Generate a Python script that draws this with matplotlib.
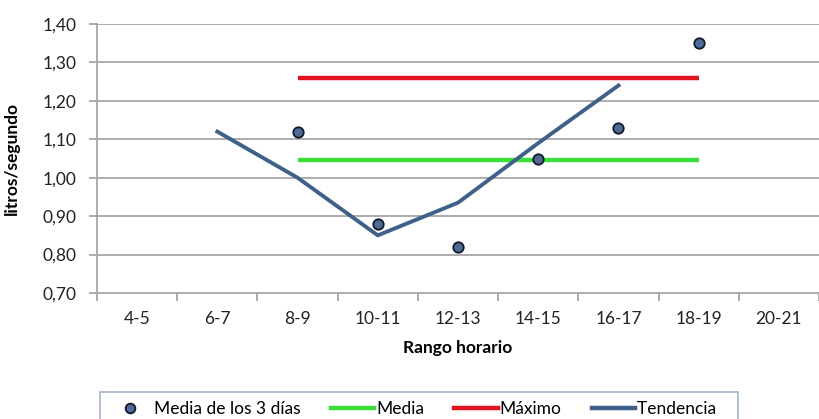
import matplotlib
matplotlib.use("Agg")
import matplotlib.pyplot as plt
import numpy as np
from matplotlib.lines import Line2D

plt.rcParams['font.family'] = ['Lato', 'DejaVu Sans']

categories = ["4-5", "6-7", "8-9", "10-11", "12-13", "14-15", "16-17", "18-19", "20-21"]
media_3_dias = [np.nan, np.nan, 1.12, 0.88, 0.82, 1.05, 1.13, 1.35, np.nan]
media = [np.nan, np.nan, 1.047, 1.047, 1.047, 1.047, 1.047, 1.047, np.nan]
maximo = [np.nan, np.nan, 1.26, 1.26, 1.26, 1.26, 1.26, 1.26, np.nan]
tendencia = [np.nan, 1.12, 1.00, 0.85, 0.935, 1.09, 1.24, np.nan, np.nan]
yticks = [0.70, 0.80, 0.90, 1.00, 1.10, 1.20, 1.30, 1.40]

W, H = 819, 419
FS = 12.5
fig = plt.figure(figsize=(W / 100, H / 100), dpi=100)
ax = fig.add_axes([97 / W, 1 - 293 / H, (819 - 97) / W, (293 - 24) / H])

x = np.arange(len(categories))
grid_c = '#A6A6A6'
ax.set_ylim(0.70, 1.40)
ax.set_xlim(-0.5, len(categories) - 0.5)
ax.set_yticks(yticks)
ax.set_yticklabels([f"{v:.2f}".replace('.', ',') for v in yticks], fontsize=FS, color='#222222')
for v in yticks[1:]:
    ax.axhline(v, color=grid_c, lw=1.3, zorder=0)

ax.set_xticks(x)
ax.set_xticklabels(categories, fontsize=FS, color='#222222')
ax.set_xticks(np.arange(-0.5, len(categories) + 0.5, 1), minor=True)
ax.tick_params(axis='x', which='major', length=0, pad=13)
ax.tick_params(axis='x', which='minor', length=6, width=1.3, color=grid_c, direction='out')
ax.tick_params(axis='y', length=6, width=1.3, color=grid_c, direction='out', pad=9)

for s in ['top', 'right']:
    ax.spines[s].set_visible(False)
for s in ['left', 'bottom']:
    ax.spines[s].set_color(grid_c)
    ax.spines[s].set_linewidth(1.3)

green = '#3BE03B'
red = '#E0141E'
blue = '#3F6189'
ax.plot(x, media, color=green, lw=3.2, solid_capstyle='butt', zorder=2)
ax.plot(x, maximo, color=red, lw=3.2, solid_capstyle='butt', zorder=2)
ax.plot(x, tendencia, color=blue, lw=2.8, zorder=3)
ax.plot(x, media_3_dias, ls='none', marker='o', ms=7.5, mfc='#4F6A95', mec='#111a2a', mew=1.3, zorder=4)

ax.set_ylabel("litros/segundo", fontsize=FS, fontweight='bold')
ax.yaxis.set_label_coords(-77 / (819 - 97), 0.5)
ax.set_xlabel("Rango horario", fontsize=FS, fontweight='bold', labelpad=9)

handles = [
    Line2D([], [], ls='none', marker='o', ms=7, mfc='#4F6A95', mec='#111a2a', mew=1.3),
    Line2D([], [], color=green, lw=3.2),
    Line2D([], [], color=red, lw=3.2),
    Line2D([], [], color=blue, lw=3.2),
]
labels = ["Media de los 3 días", "Media", "Máximo", "Tendencia   "]
leg = fig.legend(handles, labels, loc='upper left', bbox_to_anchor=(100 / W, 1 - 392 / H),
                 ncol=4, frameon=True, fancybox=False, fontsize=FS, handlelength=2.5,
                 handletextpad=0.1, columnspacing=1.75, borderpad=0.5, borderaxespad=0)
leg.get_frame().set_edgecolor('#8EA3C0')
leg.get_frame().set_linewidth(1.2)

fig.savefig("out.png", dpi=100)
